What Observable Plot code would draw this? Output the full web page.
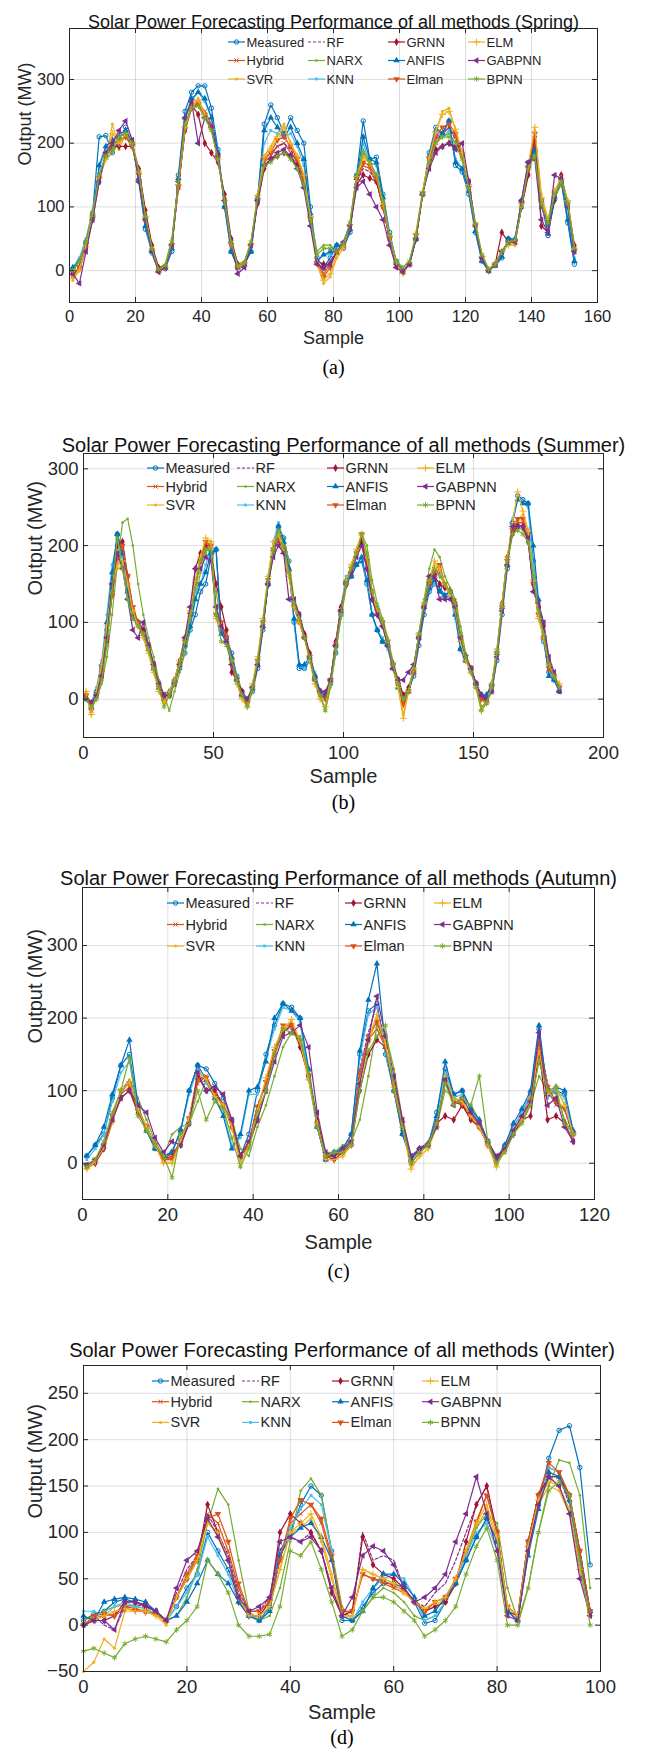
<!DOCTYPE html>
<html><head><meta charset="utf-8">
<script src="https://cdn.jsdelivr.net/npm/d3@7"></script>
<script src="https://cdn.jsdelivr.net/npm/@observablehq/plot@0.6"></script>
<style>
body{margin:0;background:#fff;}
#root{position:relative;width:649px;height:1760px;overflow:hidden;background:#fff;}
#root svg{position:absolute;left:0;overflow:visible;}
</style></head><body><div id="root"></div>
<script>
// ---------- categories ----------
const methods = ["Measured","Hybrid","SVR","RF","NARX","KNN","GRNN","ANFIS","Elman","ELM","GABPNN","BPNN"];
const legendOrder = ["Measured","RF","GRNN","ELM","Hybrid","NARX","ANFIS","GABPNN","SVR","KNN","Elman","BPNN"];
const seasons = ["Spring","Summer","Autumn","Winter"];
const captions = ["(a)","(b)","(c)","(d)"];

// ---------- tick labels ----------
const springXTicks = [0,20,40,60,80,100,120,140,160];
const springYTicks = [0,100,200,300];
const summerXTicks = [0,50,100,150,200];
const summerYTicks = [0,100,200,300];
const autumnXTicks = [0,20,40,60,80,100,120];
const autumnYTicks = [0,100,200,300];
const winterXTicks = [0,20,40,60,80,100];
const winterYTicks = [-50,0,50,100,150,200,250];

// ---------- sample indices ----------
const springSamples = d3.range(1, 154, 2);
const summerSamples = d3.range(1, 184, 2);
const autumnSamples = d3.range(1, 116, 2);
const winterSamples = d3.range(0, 99, 2);

// ---------- Spring (a) ----------
const springMeasured = [0,15,45,90,210,212,185,205,225,200, 140,65,30,0,3,30,150,250,280,290, 290,255,190,100,30,5,10,30,110,230, 260,240,215,240,220,200,100,20,5,20, 40,35,60,150,235,175,178,120,60,15, 0,10,50,120,185,225,215,235,165,155, 120,60,15,0,8,20,50,48,110,170, 190,110,55,115,140,75,10];
const springHybrid = [-10,5,40,90,150,180,200,205,210,195, 150,80,30,0,5,40,130,220,255,265, 250,230,180,110,40,5,10,40,110,170, 180,195,200,185,170,140,80,15,-5,10, 30,40,70,140,165,160,140,100,50,10, 0,10,55,120,170,200,215,225,210,180, 130,70,20,0,10,30,45,45,100,150, 200,100,70,120,140,100,30];
const springSVR = [-15,0,35,85,145,175,230,190,215,200, 155,85,35,-2,5,45,135,225,260,270, 245,220,175,110,45,8,12,45,120,180, 195,215,230,200,180,150,85,10,-20,-10, 20,35,75,150,180,170,150,105,55,12, -5,10,60,125,180,220,250,255,220,185, 135,75,25,2,12,30,40,40,105,165, 220,120,80,125,145,110,35];
const springRF = [-5,5,40,85,145,180,200,215,220,200, 150,80,30,0,5,40,135,225,255,262, 245,225,175,105,40,5,10,40,110,175, 185,195,200,190,170,140,80,15,0,15, 30,40,70,140,160,155,140,100,50,10, 0,10,55,120,175,205,215,225,205,175, 130,70,20,0,10,28,45,45,100,150, 195,100,70,115,140,100,30];
const springNARX = [0,15,50,95,150,175,185,200,210,200, 160,90,35,5,10,50,140,230,255,260, 240,220,175,110,45,10,15,45,115,165, 175,180,185,175,165,140,85,30,40,40, 30,45,75,150,190,170,150,110,55,15, 5,15,55,120,170,200,210,215,200,175, 130,75,25,2,10,30,45,50,100,160, 185,105,75,115,135,110,35];
const springKNN = [5,20,50,90,160,190,205,210,215,200, 150,70,25,0,5,35,140,235,265,280, 265,240,185,105,35,5,10,35,115,200, 220,215,210,215,195,165,90,15,25,25, 40,40,70,145,200,170,165,115,55,12, 0,10,50,120,180,215,210,220,175,160, 125,65,15,0,10,25,50,50,110,165, 185,110,60,115,140,85,20];
const springGRNN = [-5,5,35,80,140,180,195,195,195,195, 160,95,40,5,5,40,130,220,260,245, 200,185,170,120,50,10,10,40,105,160, 175,180,185,180,165,135,80,15,10,10, 30,40,65,135,150,145,140,100,50,10, 0,10,50,120,165,190,195,200,195,180, 140,70,20,0,10,60,45,45,100,150, 210,70,60,110,150,105,40];
const springANFIS = [5,15,45,85,165,195,205,210,220,200, 145,70,30,0,5,35,145,240,270,280, 270,240,185,100,30,5,10,30,115,220, 240,225,210,225,200,175,90,15,25,30, 40,40,65,145,210,175,170,115,55,12, 0,10,50,120,180,220,215,235,170,160, 125,62,15,0,8,22,50,50,110,165, 190,110,58,115,140,80,15];
const springElman = [-8,5,40,85,145,178,200,205,210,195, 150,80,32,0,5,40,132,222,255,262, 245,225,178,108,40,5,10,40,110,175, 185,205,210,195,175,145,80,12,-10,5, 30,40,70,145,170,165,145,100,50,10, -2,10,55,120,175,210,225,230,215,180, 130,70,20,0,10,30,45,45,105,160, 215,110,75,120,140,105,30];
const springELM = [-12,2,38,85,145,175,215,200,215,200, 155,85,33,-2,5,42,135,225,258,268, 245,222,175,110,42,6,12,42,118,178, 190,210,225,200,180,150,85,12,-15,-5, 25,38,72,148,178,168,150,105,55,12, -5,10,58,124,178,218,245,250,222,185, 135,75,22,2,12,30,40,42,105,165, 225,115,80,125,145,110,35];
const springGABPNN = [-5,-20,30,80,140,185,200,220,235,205, 140,80,30,-2,5,40,140,240,265,200, 240,225,180,110,45,-5,5,40,110,165, 175,185,190,180,160,130,70,10,5,10, 30,45,70,130,140,120,100,80,40,5, -2,10,50,120,160,185,195,200,190,200, 140,70,20,0,10,30,45,45,110,170, 175,80,60,150,145,100,30];
const springBPNN = [0,15,45,90,150,180,190,210,215,200, 155,85,35,2,8,45,140,230,255,258, 240,220,175,110,45,8,12,45,115,165, 170,180,185,175,160,135,80,25,35,35, 30,42,75,150,185,170,150,110,55,15, 5,15,55,120,170,200,210,210,200,175, 130,72,25,2,10,30,45,48,100,160, 180,105,75,120,140,105,35];

// ---------- Summer (b) ----------
const summerMeasured = [0,-10,10,40,90,150,215,190,140,110, 100,90,70,45,20,0,5,20,40,60, 90,110,140,150,185,195,90,80,60,30, 10,0,10,40,90,150,190,225,210,180, 100,40,40,50,30,10,5,20,60,110, 150,160,175,180,150,110,90,75,70,45, 20,0,10,30,70,110,140,150,145,135, 140,110,65,50,40,20,5,0,10,50, 110,170,230,265,260,255,180,120,75,35, 25,10];
const summerHybrid = [5,-15,5,35,80,135,180,195,160,120, 100,85,65,40,15,0,5,20,45,75, 110,150,180,200,200,110,100,80,50,25, 5,-5,15,50,100,155,195,205,195,165, 120,100,80,55,25,5,0,25,70,115, 150,170,190,210,180,140,115,100,75,45, 20,-10,10,35,80,120,150,160,170,150, 140,120,80,55,40,20,0,-5,15,60, 120,180,220,230,230,210,150,110,80,40, 30,15];
const summerSVR = [10,-20,10,45,95,150,170,175,150,115, 95,80,60,35,10,-5,10,25,50,80, 115,155,185,205,205,105,95,75,50,20, 0,-10,20,55,105,160,205,215,190,160, 120,100,80,50,20,0,-10,25,70,115, 155,175,195,215,185,140,115,95,70,40, 15,-20,10,40,85,125,155,175,170,150, 135,115,75,50,35,15,-10,-5,20,65, 125,185,225,235,240,220,155,105,80,45, 30,20];
const summerRF = [5,-10,10,40,85,140,185,190,155,115, 100,85,65,40,15,0,5,20,45,75, 105,145,175,195,195,110,100,80,50,25, 5,-5,15,50,100,155,195,205,195,165, 120,100,80,55,25,5,5,25,70,115, 150,170,190,210,180,140,115,100,75,45, 20,-5,10,35,80,120,150,160,165,150, 140,120,80,55,40,20,0,0,15,60, 120,180,220,225,225,205,150,110,80,40, 30,15];
const summerNARX = [0,-10,0,20,55,110,175,230,235,200, 150,110,80,55,25,5,-15,10,35,60, 95,130,165,190,205,140,100,80,55,30, 10,-10,10,45,95,150,190,210,210,180, 130,110,85,55,25,5,-15,15,60,105, 145,170,195,215,200,155,125,105,80,50, 25,5,10,40,85,130,170,195,185,160, 145,130,95,60,40,20,-10,-5,10,55, 115,175,215,225,220,210,175,120,85,45, 30,15];
const summerKNN = [0,-5,15,50,110,175,205,185,140,105, 95,85,65,40,15,0,10,25,50,80, 100,140,150,175,200,110,90,70,45,20, 5,0,15,50,100,155,205,230,200,170, 100,45,40,55,35,10,5,25,70,120, 160,165,175,185,150,110,90,80,65,40, 15,0,15,40,85,120,145,150,140,130, 135,105,65,50,40,20,5,5,20,65, 125,180,235,260,255,250,170,115,75,35, 25,12];
const summerGRNN = [5,-5,5,30,75,140,200,205,160,110, 100,90,70,45,15,5,5,25,50,80, 110,170,190,200,190,150,120,90,35,25, 10,-5,15,45,95,150,195,210,195,170, 125,110,85,60,30,10,5,25,75,120, 150,170,190,205,170,130,110,95,70,45, 25,5,15,35,80,120,155,160,150,145, 140,125,80,55,40,20,5,5,15,60, 125,185,215,225,225,205,150,120,95,50, 30,15];
const summerANFIS = [0,-10,10,45,100,165,215,190,140,105, 100,85,65,40,15,0,10,25,45,70, 95,130,150,165,190,195,85,75,55,25, 5,0,15,45,95,150,195,225,205,170, 105,45,45,55,30,10,5,25,70,115, 155,160,175,185,155,110,90,75,70,40, 15,0,10,35,80,120,145,155,140,135, 140,110,65,50,40,20,5,5,20,60, 120,175,230,260,255,255,200,130,80,30, 25,10];
const summerElman = [5,-15,5,35,80,135,185,200,160,120, 100,85,65,40,15,0,5,20,45,75, 110,150,180,205,200,110,100,80,50,25, 5,-5,15,50,100,155,195,210,195,165, 120,100,80,55,25,5,0,25,70,115, 150,170,190,215,180,140,115,100,75,45, 20,-5,10,35,80,120,150,165,175,150, 140,120,80,55,40,20,0,-5,15,60, 120,180,220,235,235,215,150,110,80,40, 30,15];
const summerELM = [10,-20,10,45,95,150,175,180,150,115, 95,80,60,35,10,-5,10,25,50,80, 115,155,185,210,205,105,95,75,50,20, 0,-10,20,55,105,160,205,215,190,160, 120,100,80,50,20,0,-10,25,70,115, 155,175,195,215,185,140,115,95,70,40, 15,-25,10,40,85,125,155,180,170,150, 135,115,75,50,35,15,-15,-5,20,65, 125,185,230,270,245,220,155,105,80,45, 30,20];
const summerGABPNN = [0,-5,5,30,80,150,190,170,130,90, 80,100,70,45,20,5,5,20,45,80, 120,170,170,185,180,120,95,75,45,25, 5,0,15,45,95,150,185,200,190,130, 130,110,80,55,25,10,10,25,70,115, 150,165,185,200,170,130,110,95,70,40, 25,25,35,45,80,120,160,160,130,130, 130,120,80,55,40,20,5,0,10,55, 115,175,225,225,225,210,140,125,100,55, 35,10];
const summerBPNN = [0,-10,0,25,70,140,210,170,130,105, 95,85,65,40,15,-10,5,20,45,75, 105,145,180,195,195,110,75,70,50,25, 5,-10,15,50,100,155,195,220,200,165, 125,105,80,55,25,5,-15,20,65,110, 150,170,190,215,190,140,120,100,75,45, 20,0,10,40,85,125,155,170,160,150, 140,125,85,55,35,15,-15,-5,15,60, 120,180,215,220,215,205,160,115,85,45, 30,15];

// ---------- Autumn (c) ----------
const autumnMeasured = [10,25,40,90,135,150,75,45,20,10, 15,45,100,135,130,110,90,60,10,40, 100,150,190,220,215,200,120,50,5,15, 20,40,150,210,220,150,100,40,5,20, 25,70,130,95,100,75,55,30,5,25, 50,70,95,185,95,100,95,40];
const autumnHybrid = [-5,5,25,60,95,105,70,50,25,5, 5,30,60,110,120,95,80,55,10,30, 75,110,150,185,190,170,120,55,10,10, 15,30,120,170,185,160,110,55,0,15, 25,55,110,85,80,65,50,25,0,20, 45,60,85,160,100,80,75,40];
const autumnSVR = [-8,0,20,55,100,110,75,50,25,0, 0,30,60,120,115,90,80,50,0,25, 70,115,155,180,195,165,115,55,5,5, 10,25,110,165,200,165,105,50,-5,10, 20,50,120,85,85,65,50,25,-5,20, 45,60,90,150,95,105,80,40];
const autumnRF = [-5,5,25,65,100,115,75,50,25,5, 10,30,65,115,120,95,80,55,10,30, 80,110,150,185,185,170,120,55,10,15, 20,30,130,180,220,160,110,55,5,20, 30,55,115,85,80,70,50,25,5,20, 45,65,90,170,110,80,75,35];
const autumnNARX = [-5,5,25,60,95,115,90,60,30,10, 40,50,55,85,115,100,80,60,20,10, 50,80,120,160,180,175,130,60,15,15, 25,30,60,120,190,180,130,60,10,15, 30,50,100,90,85,80,60,30,10,15, 40,60,80,120,100,95,60,40];
const autumnKNN = [5,20,40,85,125,140,75,45,20,10, 15,45,95,130,110,90,70,25,35,95, 95,145,185,215,210,195,115,50,5,15, 20,40,145,205,215,150,100,40,5,20, 25,65,125,90,95,75,55,30,5,25, 50,70,95,180,90,100,90,40];
const autumnGRNN = [-5,0,20,60,90,100,70,50,25,5, 15,25,55,120,100,100,80,50,10,25, 60,100,150,180,190,160,120,60,10,5, 15,25,100,150,170,160,100,45,5,20, 25,55,65,60,80,60,50,25,5,20, 40,60,65,155,60,65,55,30];
const autumnANFIS = [10,25,50,95,135,170,80,45,20,10, 15,45,100,135,115,90,65,20,40,100, 105,140,200,220,210,200,130,50,5,15, 20,40,155,225,275,160,100,40,5,20, 25,65,140,95,100,75,60,30,5,25, 55,75,100,190,95,105,100,45];
const autumnElman = [-5,5,25,65,100,110,72,50,25,5, 8,32,62,115,118,95,80,55,8,28, 78,112,155,190,190,168,120,55,8,10, 15,30,125,175,195,160,108,55,0,15, 25,55,112,85,82,68,50,25,0,20, 45,62,88,165,105,85,75,40];
const autumnELM = [-8,2,22,58,100,112,75,50,25,0, 0,30,62,125,115,92,80,50,0,25, 72,118,160,185,198,168,115,55,5,5, 10,25,112,170,205,165,105,50,-8,10, 20,50,120,88,85,65,50,25,-5,20, 45,60,90,155,95,105,80,40];
const autumnGABPNN = [-2,5,25,60,90,100,80,70,35,15, 30,25,55,125,100,105,95,60,10,30, 60,100,140,175,180,190,160,70,15,10, 20,30,110,170,230,175,120,60,10,20, 25,50,115,80,90,70,55,30,10,20, 45,65,85,180,80,90,50,30];
const autumnBPNN = [-5,5,30,70,100,145,65,45,25,10, -20,40,55,100,60,85,75,35,-5,20, 70,100,150,185,180,170,125,50,10,15, 15,25,100,155,175,190,100,50,0,15, 25,55,110,80,90,80,120,30,0,15, 40,55,80,140,100,105,55,40];

// ---------- Winter (d) ----------
const winterMeasured = [5,12,15,25,28,25,22,15,5,20, 40,55,100,80,60,30,10,5,20,80, 100,130,150,140,80,5,5,20,35,45, 45,40,25,2,5,25,45,70,95,115, 90,15,5,85,130,180,210,215,170,65];
const winterHybrid = [0,8,10,12,20,18,15,12,5,30, 50,75,120,110,80,40,15,15,25,70, 110,120,130,110,70,15,15,55,50,45, 40,35,25,15,25,30,50,80,110,140, 100,20,10,90,140,170,165,140,80,15];
const winterSVR = [-50,-40,-15,-25,15,15,15,10,0,30, 50,70,110,100,70,30,10,10,20,60, 100,105,115,90,50,10,10,60,55,50, 45,35,25,15,20,30,50,80,105,125, 90,20,10,80,130,150,145,120,60,10];
const winterRF = [5,10,0,-5,20,22,20,15,5,35, 60,75,120,100,75,35,15,15,30,80, 95,90,100,80,40,10,15,100,70,75, 70,40,25,20,35,45,70,100,130,150, 100,15,5,80,140,160,160,130,60,10];
const winterNARX = [5,10,15,20,22,20,18,12,5,10, 30,60,110,147,130,70,15,5,10,40, 90,145,158,140,80,20,5,15,30,40, 35,25,10,5,10,25,45,75,105,120, 110,40,5,40,100,150,178,175,140,40];
const winterKNN = [15,15,10,20,25,20,18,12,5,20, 35,55,95,75,55,25,10,5,15,75, 105,125,140,130,80,10,5,25,40,50, 55,50,30,5,10,25,45,75,100,110, 80,15,5,80,130,170,165,135,70,15];
const winterGRNN = [0,5,5,10,25,25,20,15,5,30, 50,70,130,100,70,25,10,10,25,100, 120,110,100,80,35,10,15,95,65,55, 50,40,25,15,20,25,45,90,130,150, 100,15,10,90,140,160,160,140,80,15];
const winterANFIS = [10,5,25,28,30,28,25,15,5,10, 25,45,70,55,45,25,10,5,15,75, 95,105,110,95,70,10,5,15,40,55, 55,45,30,10,15,30,45,70,95,115, 90,15,5,75,125,165,160,135,70,15];
const winterElman = [0,10,12,10,18,16,14,12,5,30, 55,75,115,120,90,45,15,15,25,70, 115,135,130,115,75,15,15,55,50,48, 42,38,25,15,25,30,50,80,112,140, 100,20,10,90,140,175,165,140,80,15];
const winterELM = [0,5,10,15,18,15,15,10,3,30, 50,70,110,100,70,30,10,10,20,60, 100,110,120,95,55,10,10,60,55,50, 45,35,25,18,25,30,50,80,110,130, 95,20,10,85,135,155,150,125,60,10];
const winterGABPNN = [0,5,5,-5,25,25,22,15,5,40, 70,80,115,95,70,30,15,20,30,90, 95,90,95,80,40,10,30,75,85,80, 65,40,25,30,40,55,90,120,160,120, 80,10,5,80,130,160,150,120,50,10];
const winterBPNN = [-28,-25,-30,-35,-20,-15,-12,-15,-18,-5, 5,20,70,55,35,0,-12,-12,-10,20, 80,75,90,60,25,-12,-5,15,30,30, 25,15,5,-12,-5,5,20,55,85,105, 70,0,0,40,100,145,155,140,70,0];

// ---------- styles (draw order = methods) ----------
const seriesStyle = [
  {color:"#0072BD", symbol:"circle", r:2.2, fill:false},
  {color:"#D95319", symbol:"times", r:2.0, fill:false},
  {color:"#EDB120", symbol:"circle", r:1.5, fill:true},
  {color:"#7E2F8E", symbol:null, dash:"3,2"},
  {color:"#77AC30", symbol:"circle", r:1.3, fill:true},
  {color:"#4DBEEE", symbol:"square", r:1.6, fill:true},
  {color:"#A2142F", symbol:"diamond", r:2.4, fill:true},
  {color:"#0072BD", symbol:"triangle", r:2.4, fill:true},
  {color:"#D95319", symbol:"triangle", r:2.4, fill:true, rotate:180},
  {color:"#EDB120", symbol:"plus", r:2.4, fill:false},
  {color:"#7E2F8E", symbol:"triangle", r:2.4, fill:true, rotate:-90},
  {color:"#77AC30", symbol:"asterisk", r:2.6, fill:false}
];
const d3Symbols = {circle:d3.symbolCircle, times:d3.symbolTimes, square:d3.symbolSquare, diamond:d3.symbolDiamond, triangle:d3.symbolTriangle, plus:d3.symbolPlus, asterisk:d3.symbolAsterisk};

const panels = [
  {season:"Spring", samples:springSamples, values:[springMeasured,springHybrid,springSVR,springRF,springNARX,springKNN,springGRNN,springANFIS,springElman,springELM,springGABPNN,springBPNN],
   xDomain:[0,160], yDomain:[-50,380], xTicks:springXTicks, yTicks:springYTicks,
   frameTop:28, ml:69, mr:52, mt:28, fh:274, titleDy:-13, titleSize:18, tickSize:16.5, labelSize:18, sampleDy:41, yLabelDx:-44, captionDy:71,
   legend:{x0:159, col:80, y0:14, row:18.5, font:13}},
  {season:"Summer", samples:summerSamples, values:[summerMeasured,summerHybrid,summerSVR,summerRF,summerNARX,summerKNN,summerGRNN,summerANFIS,summerElman,summerELM,summerGABPNN,summerBPNN],
   xDomain:[0,200], yDomain:[-50,320], xTicks:summerXTicks, yTicks:summerYTicks,
   frameTop:453, ml:83, mr:46, mt:34, fh:284, titleDy:-16, titleSize:20, tickSize:18.5, labelSize:20, sampleDy:45, yLabelDx:-48, captionDy:71,
   legend:{x0:64, col:90, y0:15, row:18.5, font:14.5}},
  {season:"Autumn", samples:autumnSamples, values:[autumnMeasured,autumnHybrid,autumnSVR,autumnRF,autumnNARX,autumnKNN,autumnGRNN,autumnANFIS,autumnElman,autumnELM,autumnGABPNN,autumnBPNN],
   xDomain:[0,120], yDomain:[-50,380], xTicks:autumnXTicks, yTicks:autumnYTicks,
   frameTop:887, ml:82, mr:55, mt:34, fh:312, titleDy:-17, titleSize:20, tickSize:18.5, labelSize:20, sampleDy:49, yLabelDx:-47, captionDy:78,
   legend:{x0:85, col:89, y0:16, row:21.5, font:14.5}},
  {season:"Winter", samples:winterSamples, values:[winterMeasured,winterHybrid,winterSVR,winterRF,winterNARX,winterKNN,winterGRNN,winterANFIS,winterElman,winterELM,winterGABPNN,winterBPNN],
   xDomain:[0,100], yDomain:[-50,280], xTicks:winterXTicks, yTicks:winterYTicks,
   frameTop:1365, ml:83, mr:49, mt:34, fh:306, titleDy:-23, titleSize:20, tickSize:18.5, labelSize:20, sampleDy:47, yLabelDx:-48, captionDy:72,
   legend:{x0:69, col:90, y0:16, row:20.7, font:14.5}}
];

const root = document.getElementById("root");
const ink = "#262626";
const sans = "'Liberation Sans', Arial, Helvetica, sans-serif";

panels.forEach((p, pi) => {
  const fw = 649 - p.ml - p.mr;
  const mb = 92;
  const marks = [
    Plot.ruleX(p.xTicks, {stroke:"#000", strokeOpacity:0.13}),
    Plot.ruleY(p.yTicks, {stroke:"#000", strokeOpacity:0.13})
  ];
  methods.forEach((m, k) => {
    const st = seriesStyle[k];
    const rows = p.values[k].map((v, i) => ({x: p.samples[i], y: v}));
    marks.push(Plot.line(rows, {x:"x", y:"y", stroke: st.color, strokeWidth: 1.2, strokeDasharray: st.dash || null}));
    if (st.symbol) {
      marks.push(Plot.dot(rows, {x:"x", y:"y", symbol: st.symbol, r: st.r,
        stroke: st.fill ? "none" : st.color, fill: st.fill ? st.color : "none",
        strokeWidth: 1, rotate: st.rotate || 0}));
    }
  });
  marks.push(
    Plot.frame({stroke: ink, strokeWidth: 1}),
    Plot.tickY(p.yTicks, {insetRight: fw - 5, stroke: ink}),
    Plot.tickY(p.yTicks, {insetLeft: fw - 5, stroke: ink}),
    Plot.tickX(p.xTicks, {insetTop: p.fh - 5, stroke: ink}),
    Plot.tickX(p.xTicks, {insetBottom: p.fh - 5, stroke: ink}),
    Plot.axisX({ticks: p.xTicks, tickSize: 0, tickPadding: 8, label: null, fill: ink, fontSize: p.tickSize}),
    Plot.axisY({ticks: p.yTicks, tickSize: 0, tickPadding: 5, label: null, fill: ink, fontSize: p.tickSize}),
    Plot.text([`Solar Power Forecasting Performance of all methods (${p.season})`], {text: d => d, frameAnchor: "top", dy: p.titleDy, fontSize: p.titleSize, fill: "#111"}),
    Plot.text(["Sample"], {text: d => d, frameAnchor: "bottom", dy: p.sampleDy, fontSize: p.labelSize, fill: ink}),
    Plot.text(["Output (MW)"], {text: d => d, frameAnchor: "left", dx: p.yLabelDx, rotate: -90, fontSize: p.labelSize, fill: ink}),
    Plot.text([captions[pi]], {text: d => d, frameAnchor: "bottom", dy: p.captionDy, fontSize: 20, fontFamily: "'Liberation Serif', 'Times New Roman', serif", fill: "#000"})
  );
  const svg = Plot.plot({
    width: 649,
    height: p.mt + p.fh + mb,
    marginLeft: p.ml, marginRight: p.mr, marginTop: p.mt, marginBottom: mb,
    x: {domain: p.xDomain},
    y: {domain: p.yDomain},
    style: {fontFamily: sans, fontSize: p.tickSize + "px", background: "transparent", color: ink},
    marks
  });
  svg.style.top = (p.frameTop - p.mt) + "px";
  root.appendChild(svg);

  // legend (inside the frame, 3 rows x 4 columns)
  const L = p.legend;
  const g = d3.select(svg).append("g")
    .attr("transform", `translate(${p.ml + L.x0},${p.mt + L.y0})`)
    .attr("font-family", sans).attr("font-size", L.font)
    .attr("text-anchor", "start");
  legendOrder.forEach((name, j) => {
    const k = methods.indexOf(name);
    const st = seriesStyle[k];
    const r = Math.floor(j / 4), c = j % 4;
    const gx = c * L.col, gy = r * L.row;
    g.append("line").attr("x1", gx).attr("x2", gx + 17).attr("y1", gy).attr("y2", gy)
      .attr("stroke", st.color).attr("stroke-width", 1.2)
      .attr("stroke-dasharray", st.dash || null);
    if (st.symbol) {
      g.append("path")
        .attr("d", d3.symbol(d3Symbols[st.symbol], Math.PI * st.r * st.r)())
        .attr("transform", `translate(${gx + 8.5},${gy}) rotate(${st.rotate || 0})`)
        .attr("fill", st.fill ? st.color : "none")
        .attr("stroke", st.fill ? "none" : st.color);
    }
    g.append("text").attr("x", gx + 18.5).attr("y", gy).attr("dy", "0.35em")
      .attr("text-anchor", "start")
      .attr("fill", ink).text(name);
  });
});
</script>
</body></html>
